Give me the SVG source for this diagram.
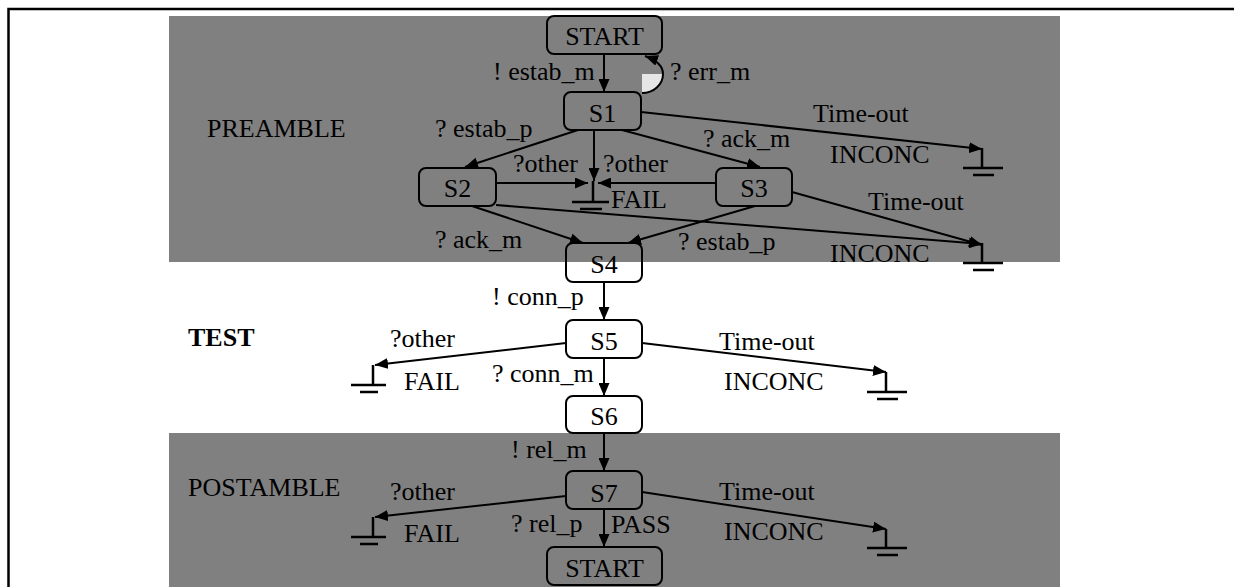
<svg xmlns="http://www.w3.org/2000/svg" width="1234" height="587" viewBox="0 0 1234 587" font-family="'Liberation Serif', 'Times New Roman', serif">
  <defs>
    <marker id="arrow" markerUnits="userSpaceOnUse" markerWidth="13" markerHeight="11" refX="13" refY="5.5" orient="auto">
      <path d="M0,0 L13,5.5 L0,11 z" fill="#000"/>
    </marker>
    <style>
      text { font-family: 'Liberation Serif', 'Times New Roman', serif; font-size: 26px; fill: #000; }
      .state text { text-anchor: middle; }
      .state rect { fill: none; stroke: #000; stroke-width: 2; }
      .edge { fill: none; stroke: #000; stroke-width: 2; marker-end: url(#arrow); }
      .ground { fill: none; stroke: #000; stroke-width: 2.5; }
      .band { fill: #808080; }
    </style>
  </defs>

  <!-- page frame -->
  <path d="M8.5,587 V9 H1234" fill="none" stroke="#000" stroke-width="2.5"/>

  <!-- shaded phases -->
  <rect class="band" x="169" y="16" width="891" height="246"/>
  <rect class="band" x="169" y="433" width="891" height="154"/>

  <!-- phase labels -->
  <g id="phase-labels" font-family="'Liberation Serif', serif">
    <text x="207" y="137">PREAMBLE</text>
    <text x="188" y="346" font-weight="bold">TEST</text>
    <text x="188" y="496">POSTAMBLE</text>
  </g>

  <!-- connectors -->
  <g id="connectors">
    <path class="edge" d="M604,54 V92"/>
    <path d="M642,74 L663,74 A21,19 0 0 1 642,93 Z" fill="#e6e6e6"/>
    <path class="edge" d="M642,93 A21,19 0 0 0 663,74 C663,66 656,60 645,56"/>
    <path class="edge" d="M578,130 L465,167"/>
    <path class="edge" d="M594,130 V181"/>
    <path class="edge" d="M622,130 L760,167"/>
    <path class="edge" d="M641,112 L982,149"/>
    <path class="edge" d="M496,183 H588"/>
    <path class="edge" d="M716,183 H598"/>
    <path class="edge" d="M472,206 L583,243"/>
    <path class="edge" d="M755,206 L628,243"/>
    <path class="edge" d="M496,205 L982,244"/>
    <path class="edge" d="M792,192 L982,245"/>
    <path class="edge" d="M604,282 V320"/>
    <path class="edge" d="M566,343 L375,365"/>
    <path class="edge" d="M604,358 V396"/>
    <path class="edge" d="M642,343 L886,372"/>
    <path class="edge" d="M604,433 V471"/>
    <path class="edge" d="M566,496 L375,517"/>
    <path class="edge" d="M604,509 V547"/>
    <path class="edge" d="M642,492 L886,529"/>
  </g>

  <!-- verdict grounds -->
  <g id="ground-inconc-1"><path class="ground" d="M982,148 V168 M963,168 H1003 M973,175 H994"/></g>
  <g id="ground-inconc-2"><path class="ground" d="M982,243 V263 M963,263 H1003 M973,270 H994"/></g>
  <g id="ground-fail-1"><path class="ground" d="M593,181 V202 M572,202 H609 M580,209 H602"/></g>
  <g id="ground-fail-2"><path class="ground" d="M373,365 V385 M351,385 H386 M360,392 H378"/></g>
  <g id="ground-inconc-3"><path class="ground" d="M886,372 V392 M867,392 H907 M877,399 H898"/></g>
  <g id="ground-fail-3"><path class="ground" d="M373,517 V537 M351,537 H386 M360,544 H378"/></g>
  <g id="ground-inconc-4"><path class="ground" d="M886,529 V548 M867,548 H907 M877,555 H898"/></g>

  <!-- states -->
  <g id="start-top" class="state"><rect x="547" y="16" width="115" height="38" rx="7"/><text x="604.5" y="45">START</text></g>
  <g id="s1" class="state"><rect x="564" y="92" width="77" height="38" rx="7"/><text x="602.5" y="122">S1</text></g>
  <g id="s2" class="state"><rect x="419" y="168" width="77" height="38" rx="7"/><text x="457.5" y="197">S2</text></g>
  <g id="s3" class="state"><rect x="716" y="168" width="76" height="38" rx="7"/><text x="754" y="197">S3</text></g>
  <g id="s4" class="state"><rect x="566" y="243" width="76" height="39" rx="7"/><text x="604" y="273">S4</text></g>
  <g id="s5" class="state"><rect x="566" y="320" width="76" height="38" rx="7"/><text x="604" y="350">S5</text></g>
  <g id="s6" class="state"><rect x="566" y="396" width="76" height="37" rx="7"/><text x="604" y="425">S6</text></g>
  <g id="s7" class="state"><rect x="566" y="471" width="76" height="38" rx="7"/><text x="604" y="502">S7</text></g>
  <g id="start-bottom" class="state"><rect x="547" y="547" width="115" height="38" rx="7"/><text x="604.5" y="577">START</text></g>

  <!-- transition and verdict labels -->
  <g id="labels">
    <text x="493" y="80">! estab_m</text>
    <text x="670" y="80">? err_m</text>
    <text x="435" y="137">? estab_p</text>
    <text x="703" y="147">? ack_m</text>
    <text x="813" y="122">Time-out</text>
    <text x="830" y="163">INCONC</text>
    <text x="513" y="172">?other</text>
    <text x="603" y="172">?other</text>
    <text x="611" y="208">FAIL</text>
    <text x="868" y="210">Time-out</text>
    <text x="435" y="248">? ack_m</text>
    <text x="678" y="250">? estab_p</text>
    <text x="830" y="262">INCONC</text>
    <text x="492" y="305">! conn_p</text>
    <text x="390" y="347">?other</text>
    <text x="719" y="350">Time-out</text>
    <text x="492" y="382">? conn_m</text>
    <text x="404" y="390">FAIL</text>
    <text x="724" y="390">INCONC</text>
    <text x="511" y="458">! rel_m</text>
    <text x="390" y="500">?other</text>
    <text x="719" y="500">Time-out</text>
    <text x="511" y="532">? rel_p</text>
    <text x="611" y="533">PASS</text>
    <text x="404" y="542">FAIL</text>
    <text x="724" y="540">INCONC</text>
  </g>
</svg>
